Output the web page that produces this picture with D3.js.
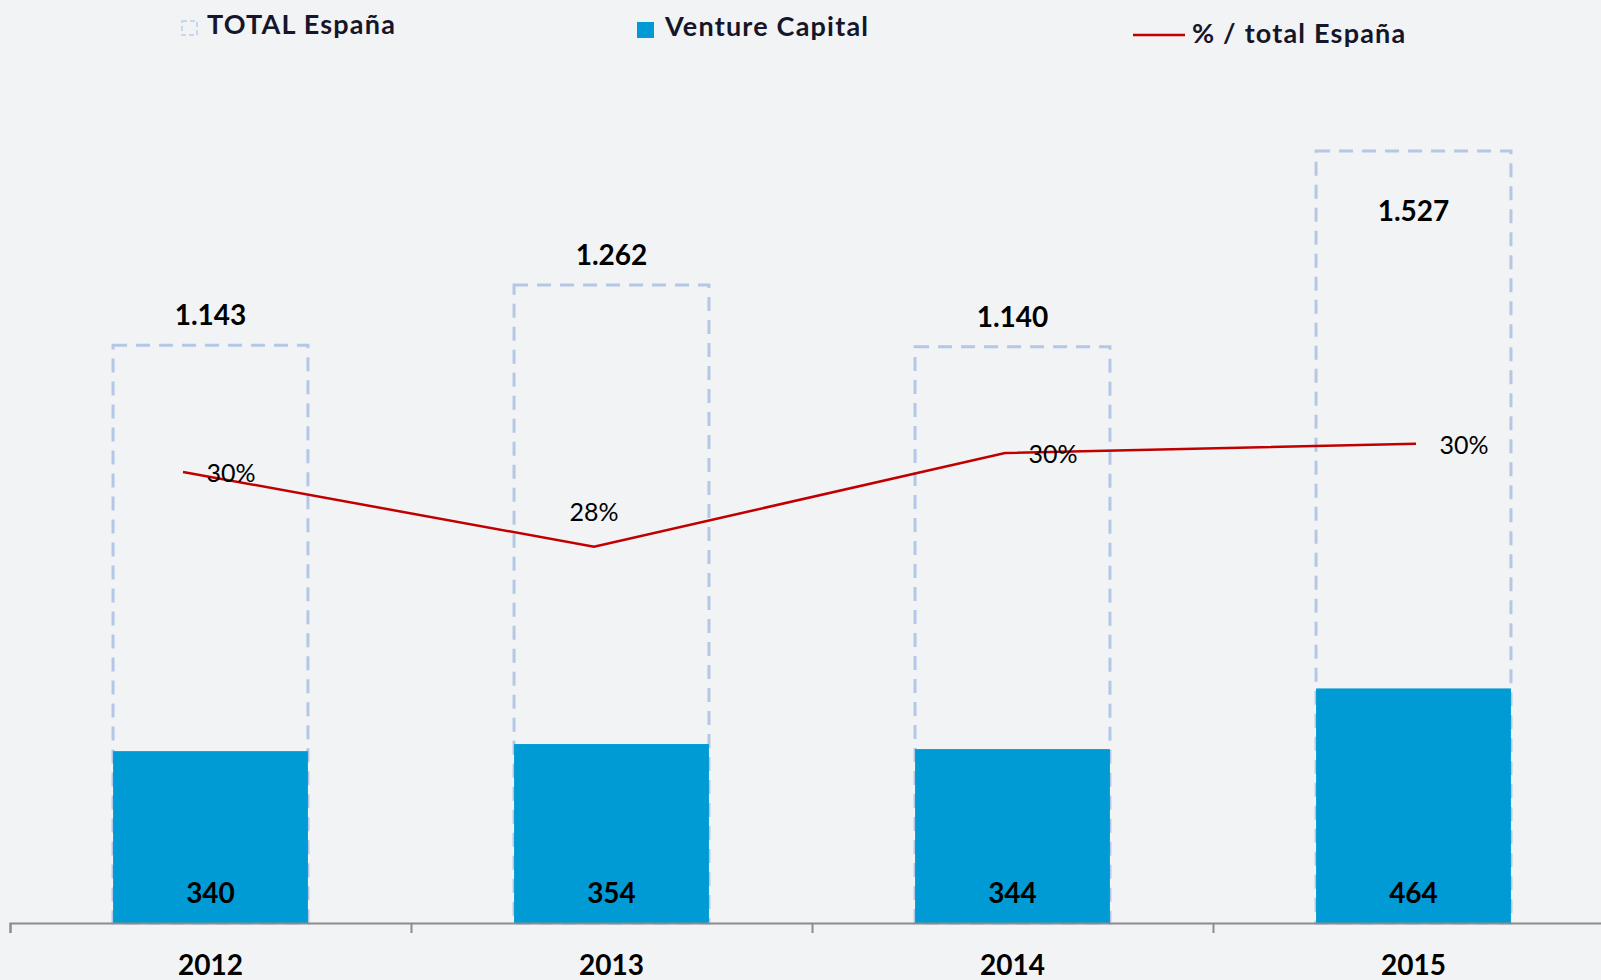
<!DOCTYPE html>
<html>
<head>
<meta charset="utf-8">
<script src="https://cdn.jsdelivr.net/npm/d3@7"></script>
<style>
  html, body { margin: 0; padding: 0; background: #f2f3f5; }
  svg { display: block; font-family: Lato, "Noto Sans", sans-serif; }
</style>
</head>
<body>
<div id="chart"></div>
<script>
// chart data
var years = ["2012", "2013", "2014", "2015"];
var totalEspana = [1143, 1262, 1140, 1527];
var ventureCapital = [340, 354, 344, 464];
var pctTotal = [29.75, 28.05, 30.18, 30.39];

var width = 1601,
    height = 980;

var svg = d3.select("#chart").append("svg")
    .attr("width", width)
    .attr("height", height);

svg.append("rect")
    .attr("width", width)
    .attr("height", height)
    .attr("fill", "#f2f3f5");

// scales
var x = d3.scaleBand()
    .domain(years)
    .range([10, 1614])
    .paddingInner(0.514)
    .paddingOuter(0.257);

var xTick = d3.scaleLinear()
    .domain([0, years.length])
    .range([10, 1614]);

var xLine = d3.scalePoint()
    .domain(years)
    .range([183, 1416]);

var y = d3.scaleLinear()
    .domain([0, 1800])
    .range([923, 13]);

var y2 = d3.scaleLinear()
    .domain([19.5, 40.2])
    .range([923, 12]);

// labels above the box unless it runs into the legend area
var labelRoom = 190;

var rows = years.map(function(d, i) {
  return {year: d, total: totalEspana[i], vc: ventureCapital[i], pct: pctTotal[i]};
});

// dashed boxes for total
svg.selectAll(".total")
    .data(rows)
  .enter().append("rect")
    .attr("class", "total")
    .attr("x", function(d) { return x(d.year); })
    .attr("width", x.bandwidth())
    .attr("y", function(d) { return y(d.total); })
    .attr("height", function(d) { return y(0) - y(d.total); })
    .attr("fill", "none")
    .attr("stroke", "#b4c7e7")
    .attr("stroke-width", 3)
    .attr("stroke-dasharray", "14,9");

// venture capital bars
svg.selectAll(".bar")
    .data(rows)
  .enter().append("rect")
    .attr("class", "bar")
    .attr("x", function(d) { return x(d.year); })
    .attr("width", x.bandwidth())
    .attr("y", function(d) { return y(d.vc); })
    .attr("height", function(d) { return y(0) - y(d.vc); })
    .attr("fill", "#009bd5");

// x axis, ticks between categories
svg.append("g")
    .attr("class", "xAxis")
    .attr("transform", "translate(0," + y(0) + ")")
    .call(d3.axisBottom(xTick)
      .tickValues(d3.range(years.length + 1))
      .tickSize(10)
      .tickFormat(""))
    .call(function(g) {
      g.selectAll("path, line").attr("stroke", "#8c8c8c").attr("stroke-width", 2);
    });

svg.selectAll(".year")
    .data(rows)
  .enter().append("text")
    .attr("class", "year")
    .attr("x", function(d) { return x(d.year) + x.bandwidth() / 2; })
    .attr("y", 975)
    .attr("text-anchor", "middle")
    .attr("font-size", 28)
    .attr("font-weight", "bold")
    .text(function(d) { return d.year; });

// value labels
svg.selectAll(".totalLabel")
    .data(rows)
  .enter().append("text")
    .attr("class", "totalLabel")
    .attr("x", function(d) { return x(d.year) + x.bandwidth() / 2; })
    .attr("y", function(d) {
      var top = y(d.total);
      return top < labelRoom ? top + 70 : top - 20;
    })
    .attr("text-anchor", "middle")
    .attr("font-size", 28)
    .attr("font-weight", "bold")
    .text(function(d) { return d3.format(",")(d.total).replace(",", "."); });

svg.selectAll(".vcLabel")
    .data(rows)
  .enter().append("text")
    .attr("class", "vcLabel")
    .attr("x", function(d) { return x(d.year) + x.bandwidth() / 2; })
    .attr("y", y(0) - 20)
    .attr("text-anchor", "middle")
    .attr("font-size", 28)
    .attr("font-weight", "bold")
    .text(function(d) { return d.vc; });

// percentage line
var line = d3.line()
    .x(function(d) { return xLine(d.year); })
    .y(function(d) { return y2(d.pct); });

svg.append("path")
    .datum(rows)
    .attr("fill", "none")
    .attr("stroke", "#c00000")
    .attr("stroke-width", 2.5)
    .attr("d", line);

svg.selectAll(".pctLabel")
    .data(rows)
  .enter().append("text")
    .attr("class", "pctLabel")
    .attr("x", function(d, i) { return xLine(d.year) + (i == 1 ? 0 : 48); })
    .attr("y", function(d, i) { return y2(d.pct) + (i == 1 ? -26 : 10); })
    .attr("text-anchor", "middle")
    .attr("font-size", 25)
    .text(function(d) { return d3.format(".0f")(d.pct) + "%"; });

// legend
var legend = svg.append("g").attr("class", "legend")
    .attr("font-size", 27)
    .attr("font-weight", "bold")
    .attr("letter-spacing", "1.2px")
    .attr("fill", "#16162a");

legend.append("rect")
    .attr("x", 182).attr("y", 21)
    .attr("width", 15).attr("height", 14)
    .attr("fill", "none")
    .attr("stroke", "#c9d6ef")
    .attr("stroke-width", 2)
    .attr("stroke-dasharray", "5,3");
legend.append("text")
    .attr("x", 207).attr("y", 34)
    .text("TOTAL España");

legend.append("rect")
    .attr("x", 637).attr("y", 22)
    .attr("width", 17).attr("height", 16)
    .attr("fill", "#009bd5");
legend.append("text")
    .attr("x", 665).attr("y", 36)
    .text("Venture Capital");

legend.append("line")
    .attr("x1", 1133).attr("x2", 1185)
    .attr("y1", 35).attr("y2", 35)
    .attr("stroke", "#c00000")
    .attr("stroke-width", 2.5);
legend.append("text")
    .attr("x", 1192).attr("y", 43)
    .text("% / total España");
</script>
</body>
</html>
